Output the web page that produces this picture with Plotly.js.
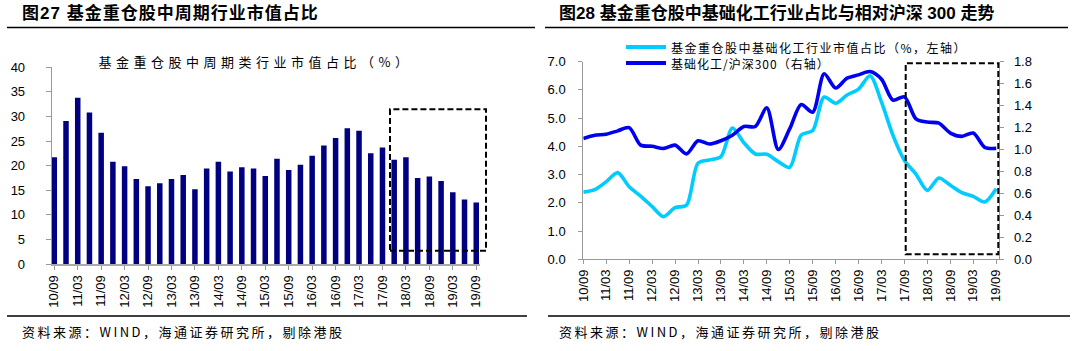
<!DOCTYPE html>
<html><head><meta charset="utf-8">
<script src="https://cdn.plot.ly/plotly-3.0.1.min.js"></script>
<style>body{margin:0;background:#fff}#chart{width:1075px;height:351px}</style>
</head><body><div id="chart"></div>
<script>
// ---- data ----
const quarters = ['10/09','10/12','11/03','11/06','11/09','11/12','12/03','12/06','12/09','12/12',
  '13/03','13/06','13/09','13/12','14/03','14/06','14/09','14/12','15/03','15/06','15/09','15/12',
  '16/03','16/06','16/09','16/12','17/03','17/06','17/09','17/12','18/03','18/06','18/09','18/12',
  '19/03','19/06','19/09'];
const shownTicks = ['10/09','11/03','11/09','12/03','12/09','13/03','13/09','14/03','14/09','15/03',
  '15/09','16/03','16/09','17/03','17/09','18/03','18/09','19/03','19/09'];
// 基金重仓股中周期类行业市值占比（%）
const cyclicalShare = [21.7,29.1,33.8,30.8,26.7,20.8,19.9,17.3,15.8,16.4,17.3,18.1,15.2,19.4,20.8,18.8,
  19.7,19.4,17.9,21.4,19.1,20.2,22.0,24.1,25.6,27.6,27.1,22.5,23.7,21.2,21.7,17.5,17.8,16.9,14.6,13.1,12.5];
// 基金重仓股中基础化工行业市值占比（%，左轴）
const chemShare = [2.38,2.47,2.75,3.07,2.57,2.24,1.87,1.51,1.83,1.92,3.40,3.52,3.64,4.65,4.13,3.73,
  3.72,3.46,3.26,4.40,4.56,5.75,5.53,5.82,6.03,6.50,5.57,4.39,3.50,3.02,2.44,2.88,2.62,2.36,2.23,2.03,2.50];
// 基础化工/沪深300（右轴）
const chemRelative = [1.10,1.13,1.14,1.17,1.20,1.04,1.03,1.01,1.04,0.96,1.08,1.05,1.08,1.13,1.21,1.21,
  1.38,1.00,1.19,1.41,1.34,1.69,1.56,1.65,1.68,1.71,1.64,1.45,1.48,1.28,1.25,1.24,1.15,1.12,1.15,1.02,1.01];

const W = 1075, H = 351;
const px = x => x / W, py = y => 1 - y / H;
const tickFont = {family: 'Liberation Sans, Arial, sans-serif', size: 13, color: '#000'};
const cjk = 'Noto Sans CJK SC, sans-serif';
const axisGrey = '#999';

const traces = [
  {type: 'bar', x: quarters, y: cyclicalShare, xaxis: 'x', yaxis: 'y',
   marker: {color: '#000080'}, hoverinfo: 'skip'},
  {type: 'scatter', mode: 'lines', x: quarters, y: chemRelative, xaxis: 'x2', yaxis: 'y3',
   line: {color: '#0000F0', width: 3.6, shape: 'spline', smoothing: 0.8}},
  {type: 'scatter', mode: 'lines', x: quarters, y: chemShare, xaxis: 'x2', yaxis: 'y2',
   line: {color: '#00CCFF', width: 3.6, shape: 'spline', smoothing: 0.8}}
];

const xCommon = {type: 'category', showgrid: false, zeroline: false, showline: true,
  ticks: 'outside', ticklen: 4, tickcolor: axisGrey, tickangle: -90, tickfont: tickFont,
  tickvals: shownTicks, ticktext: shownTicks, fixedrange: true};

const leftNote = (x, y, text, size, bold) => ({xref: 'paper', yref: 'paper', x: px(x), y: py(y),
  xanchor: 'left', yanchor: 'middle', align: 'left', showarrow: false,
  text: bold ? '<b>' + text + '</b>' : text,
  font: {family: bold ? 'Liberation Sans, ' + cjk : cjk, size: size, color: '#000'}});

const layout = {
  width: W, height: H, margin: {l: 0, r: 0, t: 0, b: 0},
  paper_bgcolor: '#fff', plot_bgcolor: '#fff', showlegend: false, bargap: 0.53,
  xaxis: Object.assign({}, xCommon, {domain: [px(51.7), px(480)], range: [-0.22, 36.32],
    anchor: 'y', linecolor: '#aaa', linewidth: 2}),
  yaxis: {domain: [py(264), py(67.3)], range: [0, 40], dtick: 5, showgrid: false, zeroline: false,
    showline: true, linecolor: axisGrey, linewidth: 1, ticks: 'outside', ticklen: 5, tickcolor: axisGrey,
    tickfont: tickFont, ticklabelstandoff: 18, anchor: 'x', fixedrange: true},
  xaxis2: Object.assign({}, xCommon, {domain: [px(583.3), px(999.3)], range: [0, 36.27],
    anchor: 'y2', linecolor: axisGrey, linewidth: 1}),
  yaxis2: {domain: [py(259.3), py(61.7)], range: [0, 7], dtick: 1, tickformat: '.1f', showgrid: false,
    zeroline: false, showline: true, linecolor: axisGrey, linewidth: 1, ticks: 'outside', ticklen: 4,
    tickcolor: axisGrey, tickfont: tickFont, ticklabelstandoff: 10, anchor: 'x2', fixedrange: true},
  yaxis3: {overlaying: 'y2', side: 'right', range: [0, 1.8], dtick: 0.2, tickformat: '.1f',
    showgrid: false, zeroline: false, showline: true, linecolor: axisGrey, linewidth: 1,
    ticks: 'outside', ticklen: 4, tickcolor: axisGrey, tickfont: tickFont, ticklabelstandoff: 7,
    anchor: 'x2', fixedrange: true},
  shapes: [
    // header / footer rules
    {type: 'line', xref: 'paper', yref: 'paper', x0: px(7), x1: px(535), y0: py(27.5), y1: py(27.5), line: {color: '#000', width: 1.3}},
    {type: 'line', xref: 'paper', yref: 'paper', x0: px(545), x1: px(1068), y0: py(27.5), y1: py(27.5), line: {color: '#000', width: 1.3}},
    {type: 'line', xref: 'paper', yref: 'paper', x0: px(7), x1: px(527), y0: py(316), y1: py(316), line: {color: '#000', width: 1.3}},
    {type: 'line', xref: 'paper', yref: 'paper', x0: px(548), x1: px(1070), y0: py(316), y1: py(316), line: {color: '#000', width: 1.3}},
    // dashed highlight boxes
    {type: 'rect', xref: 'paper', yref: 'paper', x0: px(390), x1: px(486), y0: py(250.7), y1: py(109.3),
     line: {color: '#000', width: 2, dash: '6px,3px'}},
    {type: 'rect', xref: 'paper', yref: 'paper', x0: px(905.7), x1: px(998.3), y0: py(254.3), y1: py(63.3),
     line: {color: '#000', width: 2, dash: '6px,3px'}},
    // legend samples
    {type: 'line', xref: 'paper', yref: 'paper', x0: px(626), x1: px(666), y0: py(47), y1: py(47), line: {color: '#00CCFF', width: 4}},
    {type: 'line', xref: 'paper', yref: 'paper', x0: px(626), x1: px(666), y0: py(63), y1: py(63), line: {color: '#0000F0', width: 4}}
  ],
  annotations: [
    leftNote(20, 13, '图27 基金重仓股中周期行业市值占比', 17, true),
    leftNote(557, 13, '图28 基金重仓股中基础化工行业占比与相对沪深 300 走势', 17, true),
    {xref: 'paper', yref: 'paper', x: px(255), y: py(61), xanchor: 'center', yanchor: 'middle', showarrow: false,
     text: '基金重仓股中周期类行业市值占比（%）', font: {family: cjk, size: 13, color: '#000'}},
    leftNote(669, 47, '基金重仓股中基础化工行业市值占比（%，左轴）', 12, false),
    leftNote(669, 63, '基础化工/沪深300（右轴）', 12, false),
    leftNote(20, 331, '资料来源：WIND，海通证券研究所，剔除港股', 13, false),
    leftNote(557, 331, '资料来源：WIND，海通证券研究所，剔除港股', 13, false)
  ]
};

Plotly.newPlot('chart', traces, layout, {staticPlot: true, displayModeBar: false}).then(() => {
  const spacing = {0: '1px', 2: '4.5px', 3: '1.5px', 4: '1px', 5: '2.5px', 6: '2.5px'};
  document.querySelectorAll('.annotation').forEach((g, i) => {
    const t = g.querySelector('text');
    if (t && spacing[i]) t.style.letterSpacing = spacing[i];
  });
});
</script>
</body></html>
